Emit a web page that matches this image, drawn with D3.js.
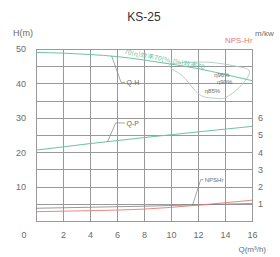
<!DOCTYPE html>
<html><head><meta charset="utf-8">
<script src="https://cdn.jsdelivr.net/npm/d3@7"></script>
<style>body{margin:0;background:#fff}svg{display:block}</style>
</head><body>
<svg id="c" width="280" height="257"></svg>
<script>
// ---- data ----
const qhQ = [0, 2, 4, 6, 8, 10, 12, 14, 16];
const qhH = [49.0, 48.8, 48.4, 47.8, 46.8, 45.6, 44.3, 42.6, 40.8];
const qpQ = [0, 4, 8, 12, 16];
const qpP = [4.12, 4.5, 4.85, 5.18, 5.5];
const npQ = [0, 4, 8, 12, 16];
const npR = [0.54, 0.6, 0.69, 0.92, 1.21];
const altQ = [0, 8, 16];
const altN = [0.74, 0.86, 1.02];
const effLoopQ = [9.9, 10.9, 12.1, 13.2, 14.1, 15.3, 15.8, 14.8, 12.5];
const effLoopH = [45.4, 42.0, 36.8, 35.7, 36.0, 39.8, 43.6, 45.0, 46.2];
const effLabels = ["η96%", "η90%", "η85%"];
const effLabelQ = [13.2, 13.4, 12.5];
const effLabelH = [41.8, 39.7, 37.1];
const xTicks = [2, 4, 6, 8, 10, 12, 14, 16];
const hTicks = [10, 20, 30, 40, 50];
const rTicks = [1, 2, 3, 4, 5, 6];
const title = "KS-25";

const svg = d3.select("#c");
const x = d3.scaleLinear().domain([0, 16]).range([36, 252]);
const y = d3.scaleLinear().domain([0, 50]).range([221, 49]);
const yr = d3.scaleLinear().domain([0, 10]).range([221, 49]);
const grid = "#999", lab = "#6a6a6a", teal = "#6cc4a4", red = "#e57a74";

// grid
const g = svg.append("g");
g.selectAll("line.v").data(d3.range(0, 17, 2)).join("line")
  .attr("x1", d => x(d) + 0.5).attr("x2", d => x(d) + 0.5)
  .attr("y1", y(50)).attr("y2", y(0)).attr("stroke", grid).attr("stroke-width", 1);
g.selectAll("line.h").data(d3.range(0, 51, 5)).join("line")
  .attr("y1", d => Math.round(y(d)) + 0.5).attr("y2", d => Math.round(y(d)) + 0.5)
  .attr("x1", x(0)).attr("x2", x(16) + 1).attr("stroke", grid).attr("stroke-width", 1);

// axes labels via d3 axes (no domain, no tick lines)
const ax = svg.append("g").attr("transform", "translate(0,229)")
  .call(d3.axisBottom(x).tickValues(xTicks).tickSize(0).tickFormat(d3.format("d")));
const al = svg.append("g").attr("transform", "translate(29,0)")
  .call(d3.axisLeft(y).tickValues(hTicks).tickSize(0));
const ar = svg.append("g").attr("transform", "translate(255,0)")
  .call(d3.axisRight(yr).tickValues(rTicks).tickSize(0));
[ax, al, ar].forEach(a => {
  a.select(".domain").remove();
  a.selectAll("text").attr("fill", lab).attr("font-size", 9).attr("font-family", "Liberation Sans, Arial, sans-serif");
});
svg.append("text").attr("x", 24).attr("y", 238).attr("text-anchor", "middle")
  .attr("fill", lab).attr("font-size", 9).attr("font-family", "Liberation Sans, sans-serif").text("0");

// texts
const T = (tx, ty, s, o = {}) => svg.append("text").attr("x", tx).attr("y", ty)
  .attr("font-family", "Liberation Sans, Arial, sans-serif").attr("font-size", o.size || 9)
  .attr("fill", o.fill || lab).attr("text-anchor", o.anchor || "start").text(s);
T(144, 21, title, {size: 12, fill: "#333", anchor: "middle"});
T(13, 36, "H(m)");
T(255, 36, "m/kw", {size: 8});
T(225, 43, "NPS-Hr", {size: 8, fill: red});
T(266, 252, "Q(m³/h)", {size: 8, anchor: "end"});

// efficiency loop
svg.append("path")
  .attr("d", d3.line().curve(d3.curveCardinalClosed).x(d => x(d[0])).y(d => y(d[1]))(effLoopQ.map((q, i) => [q, effLoopH[i]])))
  .attr("fill", "none").attr("stroke", "#b3c7be").attr("stroke-width", 0.9);

// curves
const curve = (qs, vs, sc, col, w) => svg.append("path")
  .attr("d", d3.line().curve(d3.curveMonotoneX).x(d => x(d[0])).y(d => sc(d[1]))(qs.map((q, i) => [q, vs[i]])))
  .attr("fill", "none").attr("stroke", col).attr("stroke-width", w || 1);
curve(qhQ, qhH, y, teal, 1);
curve(qpQ, qpP, yr, teal, 1);
curve(altQ, altN, yr, "#808080", 0.8);
curve(npQ, npR, yr, red, 0.9);

// efficiency text along curve
svg.append("text").attr("transform", `translate(${x(6.5)},${y(48.7)}) rotate(11)`)
  .attr("font-size", 6).attr("fill", teal).attr("font-family", "Noto Sans CJK SC, sans-serif")
  .attr("textLength", 82).attr("lengthAdjust", "spacingAndGlyphs")
  .text("70(η)效率70(%)(%)效率70");
effLabels.forEach((s, i) => T(x(effLabelQ[i]), y(effLabelH[i]), s, {size: 6, fill: "#666"}));

// leaders
const lead = (pts, sc) => svg.append("path")
  .attr("d", d3.line().x(d => x(d[0])).y(d => sc(d[1]))(pts))
  .attr("fill", "none").attr("stroke", "#808080").attr("stroke-width", 0.7);
lead([[5.6, 48.0], [6.3, 40.3], [6.6, 40.3]], y);
T(x(6.7), y(39.5), "Q-H", {size: 7});
lead([[5.3, 4.6], [5.9, 5.7], [6.6, 5.7]], yr);
T(x(6.7), yr(5.5), "Q-P", {size: 7});
lead([[11.6, 0.92], [12.2, 2.4], [12.4, 2.4]], yr);
T(x(12.5), yr(2.25), "NPSHr", {size: 6});
</script>
</body></html>
